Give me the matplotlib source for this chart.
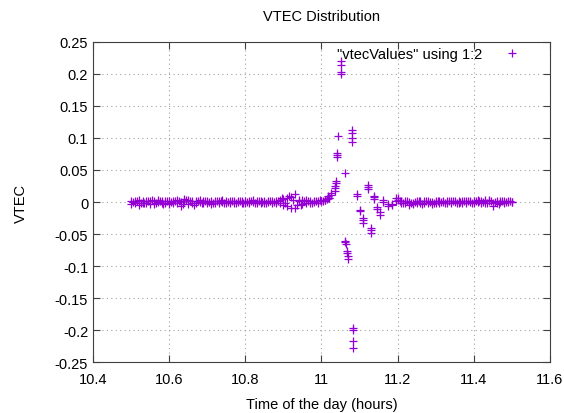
import matplotlib
matplotlib.use("Agg")
import matplotlib.pyplot as plt

plt.rcParams['font.family'] = ['Liberation Sans', 'DejaVu Sans']

# quiet period before the disturbance (overlapping samples per epoch)
pre_time = [10.50, 10.51, 10.52, 10.53, 10.54, 10.55, 10.56, 10.57, 10.58, 10.59,
            10.60, 10.61, 10.62, 10.63, 10.64, 10.65, 10.66, 10.67, 10.68, 10.69,
            10.70, 10.71, 10.72, 10.73, 10.74, 10.75, 10.76, 10.77, 10.78, 10.79,
            10.80, 10.81, 10.82, 10.83, 10.84, 10.85, 10.86, 10.87, 10.88, 10.89,
            10.90, 10.91, 10.92, 10.93, 10.94, 10.95, 10.96, 10.97, 10.98, 10.99,
            11.00, 11.01, 11.02]
pre_vtec_a = [0.001, -0.002, 0.003, -0.001, 0.002, -0.003, 0.001, 0.000, 0.002, -0.002,
              0.001, -0.001, 0.004, 0.000, 0.005, 0.003, -0.002, 0.001, 0.000, 0.002,
              -0.001, 0.001, -0.002, 0.002, 0.000, 0.001, -0.001, 0.002, 0.000, 0.001,
              -0.002, 0.002, 0.000, 0.001, -0.001, 0.002, 0.000, 0.001, -0.001, 0.003,
              0.005, -0.006, 0.008, 0.012, 0.002, 0.004, -0.002, 0.001, 0.000, 0.002,
              0.001, 0.004, 0.007]
pre_vtec_b = [-0.003, 0.002, -0.004, 0.001, -0.002, 0.002, -0.003, 0.003, -0.001, 0.001,
              -0.003, 0.002, -0.001, -0.006, 0.001, -0.003, 0.002, -0.002, 0.003, -0.001,
              0.002, -0.003, 0.001, -0.001, 0.003, -0.002, 0.002, -0.001, 0.001, -0.002,
              0.001, -0.001, 0.003, -0.002, 0.002, -0.001, 0.001, -0.002, 0.002, -0.001,
              -0.004, 0.006, -0.010, -0.009, 0.004, -0.003, 0.003, -0.001, 0.002, -0.001,
              0.002, 0.003, 0.006]
pre_time_c = [10.505, 10.515, 10.525, 10.535, 10.545, 10.555, 10.565, 10.575, 10.585, 10.595,
              10.605, 10.615, 10.625, 10.635, 10.645, 10.655, 10.665, 10.675, 10.685, 10.695,
              10.705, 10.715, 10.725, 10.735, 10.745, 10.755, 10.765, 10.775, 10.785, 10.795,
              10.805, 10.815, 10.825, 10.835, 10.845, 10.855, 10.865, 10.875, 10.885, 10.895,
              10.905, 10.915, 10.925, 10.935, 10.945, 10.955, 10.965, 10.975, 10.985, 10.995,
              11.005, 11.015]
pre_vtec_c = [0.000, 0.002, -0.001, -0.002, 0.001, 0.003, -0.001, 0.001, -0.003, 0.002,
              0.000, 0.001, 0.002, -0.003, 0.004, 0.001, -0.004, 0.002, -0.001, 0.001,
              0.000, -0.001, 0.002, 0.001, -0.002, 0.000, 0.001, -0.002, 0.002, -0.001,
              0.000, 0.001, -0.001, 0.002, 0.000, -0.002, 0.002, 0.000, 0.001, 0.006,
              -0.002, 0.010, 0.003, -0.004, -0.005, 0.001, 0.002, -0.002, 0.001, 0.003,
              0.002, 0.005]

# quiet period after the disturbance
post_time = [11.20, 11.21, 11.22, 11.23, 11.24, 11.25, 11.26, 11.27, 11.28, 11.29,
             11.30, 11.31, 11.32, 11.33, 11.34, 11.35, 11.36, 11.37, 11.38, 11.39,
             11.40, 11.41, 11.42, 11.43, 11.44, 11.45, 11.46, 11.47, 11.48, 11.49,
             11.50]
post_vtec_a = [0.003, 0.001, -0.002, 0.000, -0.003, 0.001, -0.001, 0.002, -0.002, 0.000,
               -0.001, 0.002, 0.000, -0.001, 0.002, 0.000, 0.001, -0.001, 0.002, 0.000,
               0.001, 0.003, -0.001, 0.004, 0.001, -0.002, 0.001, 0.000, 0.001, 0.000,
               0.000]
post_vtec_b = [0.006, -0.001, 0.002, -0.004, -0.001, -0.002, 0.002, -0.002, 0.001, -0.003,
               0.001, -0.001, 0.002, 0.001, -0.001, 0.002, -0.002, 0.001, -0.001, 0.002,
               -0.001, 0.000, 0.002, -0.001, 0.003, -0.006, -0.001, 0.001, -0.001, 0.001,
               0.000]
post_time_c = [11.205, 11.215, 11.225, 11.235, 11.245, 11.255, 11.265, 11.275, 11.285, 11.295,
               11.305, 11.315, 11.325, 11.335, 11.345, 11.355, 11.365, 11.375, 11.385, 11.395,
               11.405, 11.415, 11.425, 11.435, 11.445, 11.455, 11.465, 11.475, 11.485, 11.495]
post_vtec_c = [0.002, -0.002, 0.001, -0.002, 0.000, 0.001, -0.003, 0.001, 0.000, -0.002,
               0.002, 0.000, -0.001, 0.001, 0.002, -0.002, 0.000, 0.001, 0.001, -0.002,
               0.002, 0.001, 0.000, -0.002, 0.002, 0.000, -0.003, 0.002, 0.000, 0.001]

# the disturbance around 11.05 h
event_time = [11.018, 11.018, 11.026, 11.026, 11.035, 11.035, 11.035, 11.038, 11.038,
              11.042, 11.042, 11.042, 11.044,
              11.052, 11.052, 11.052, 11.052,
              11.061, 11.062, 11.062, 11.064, 11.068, 11.068, 11.070, 11.070,
              11.079, 11.079, 11.079, 11.079,
              11.083, 11.083, 11.083, 11.083,
              11.094, 11.094, 11.102, 11.102, 11.109, 11.109, 11.109,
              11.121, 11.121, 11.121, 11.129, 11.129, 11.129,
              11.137, 11.137, 11.137, 11.147, 11.147, 11.153, 11.153,
              11.162, 11.162, 11.175, 11.175, 11.184, 11.184, 11.197, 11.197]
event_vtec = [0.006, 0.009, 0.011, 0.014, 0.018, 0.022, 0.025, 0.030, 0.033,
              0.070, 0.073, 0.076, 0.103,
              0.199, 0.202, 0.214, 0.220,
              0.045, -0.060, -0.062, -0.066, -0.076, -0.080, -0.084, -0.088,
              0.093, 0.100, 0.107, 0.112,
              -0.196, -0.200, -0.217, -0.227,
              0.010, 0.013, -0.012, -0.014, -0.025, -0.028, -0.033,
              0.020, 0.024, 0.027, -0.040, -0.044, -0.048,
              0.005, 0.008, 0.009, -0.008, -0.011, -0.015, -0.020,
              0.000, 0.003, -0.003, -0.006, -0.005, -0.003, 0.006, 0.002]

color = '#9400d3'

fig = plt.figure(figsize=(5.64, 4.14), dpi=100)
ax = fig.add_axes([0.165, 0.122, 0.81, 0.775])

mk = dict(marker='+', linestyle='none', color=color, markersize=5.5, markeredgewidth=0.9)
ax.plot(pre_time, pre_vtec_a, **mk)
ax.plot(pre_time, pre_vtec_b, **mk)
ax.plot(pre_time_c, pre_vtec_c, **mk)
ax.plot(post_time, post_vtec_a, **mk)
ax.plot(post_time, post_vtec_b, **mk)
ax.plot(post_time_c, post_vtec_c, **mk)
ax.plot(event_time, event_vtec, label='"vtecValues" using 1:2', **mk)

ax.set_xlim(10.4, 11.6)
ax.set_ylim(-0.25, 0.25)
ax.set_xticks([10.4, 10.6, 10.8, 11.0, 11.2, 11.4, 11.6])
ax.set_xticklabels(['10.4', '10.6', '10.8', '11', '11.2', '11.4', '11.6'])
ax.set_yticks([0.25, 0.2, 0.15, 0.1, 0.05, 0, -0.05, -0.1, -0.15, -0.2, -0.25])
ax.set_yticklabels(['0.25', '0.2', '0.15', '0.1', '0.05', '0', '-0.05', '-0.1',
                    '-0.15', '-0.2', '-0.25'])
ax.grid(True, color='#a0a0a0', linestyle=(0, (1, 3)), linewidth=0.8)
ax.tick_params(direction='in', length=5, top=True, right=True, labelsize=10.5,
               color='#404040')
ax.tick_params(axis='x', pad=7)
for s in ax.spines.values():
    s.set_color('#404040')

ax.set_title('VTEC Distribution', fontsize=10.5, pad=15.5)
ax.set_xlabel('Time of the day (hours)', fontsize=10.5, labelpad=8)
ax.set_ylabel('VTEC', fontsize=10.5, labelpad=19)

leg = ax.legend(loc='upper right', bbox_to_anchor=(0.954, 1.0), borderaxespad=0,
                frameon=False, fontsize=10.5, markerfirst=False,
                handlelength=1.5, handletextpad=1.3)

fig.savefig('out.png', dpi=100)
